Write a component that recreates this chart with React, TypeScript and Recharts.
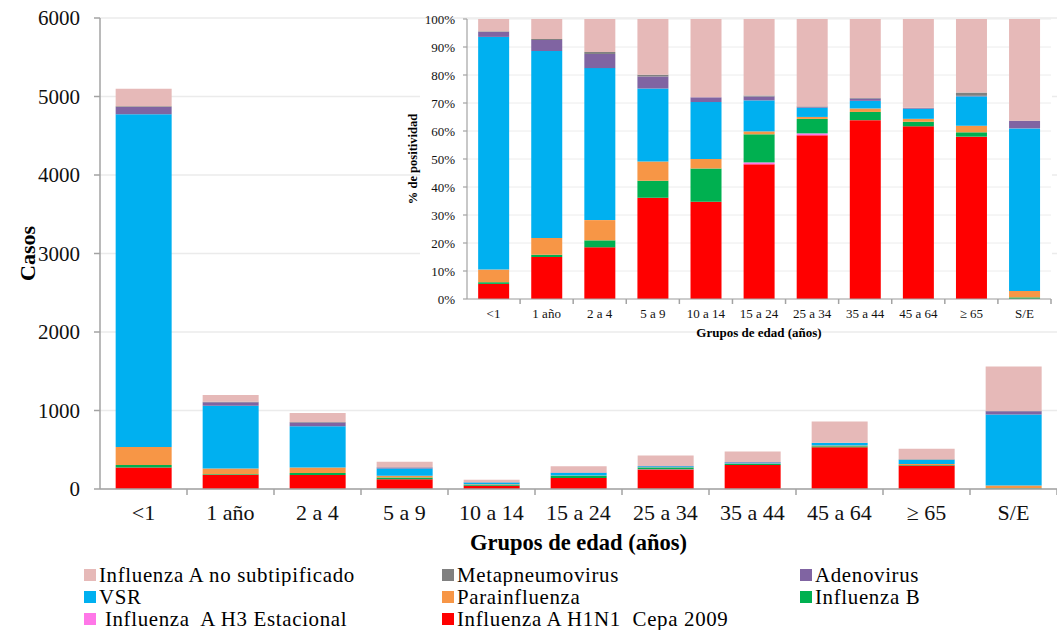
import { BarChart, Bar, XAxis, YAxis, CartesianGrid } from "recharts";

const FONT = '"Liberation Serif", "DejaVu Serif", serif';
const AXIS = "#a3a3a3";

const gruposEdad = ["<1", "1 año", "2 a 4", "5 a 9", "10 a 14", "15 a 24", "25 a 34", "35 a 44", "45 a 64", "≥ 65", "S/E"];

// casos por grupo de edad
const h1n1 = [275, 179, 179, 125, 41, 139, 249, 306, 531, 298, 0];
const h3Estacional = [0, 0, 0, 0, 0, 2, 3, 0, 0, 0, 0];
const influenzaB = [31, 10, 24, 21, 14, 29, 22, 14, 14, 8, 9];
const parainfluenza = [230, 72, 70, 24, 4, 3, 3, 6, 9, 12, 36];
const vsr = [4238, 798, 526, 90, 24, 32, 14, 13, 31, 54, 905];
const adenovirus = [92, 47, 49, 15, 2, 4, 1, 4, 2, 1, 41];
const metapneumovirus = [10, 5, 7, 2, 0, 1, 1, 1, 1, 6, 2];
const noSubtipificado = [224, 85, 114, 69, 33, 79, 133, 135, 273, 135, 566];

const casosTicks = [0, 1000, 2000, 3000, 4000, 5000, 6000];
const pctTicks = [0, 10, 20, 30, 40, 50, 60, 70, 80, 90, 100];

const series = [
  { key: "h1n1", name: "Influenza A H1N1  Cepa 2009", color: "#FF0000", values: h1n1 },
  { key: "h3", name: " Influenza  A H3 Estacional", color: "#FF77E8", values: h3Estacional },
  { key: "fluB", name: "Influenza B", color: "#00B050", values: influenzaB },
  { key: "para", name: "Parainfluenza", color: "#F79646", values: parainfluenza },
  { key: "vsr", name: "VSR", color: "#00B0F0", values: vsr },
  { key: "adeno", name: "Adenovirus", color: "#8064A2", values: adenovirus },
  { key: "metap", name: "Metapneumovirus", color: "#808080", values: metapneumovirus },
  { key: "noSub", name: "Influenza A no subtipificado", color: "#E6B9B8", values: noSubtipificado },
];

const legendOrder = ["noSub", "metap", "adeno", "vsr", "para", "fluB", "h3", "h1n1"];

const data = gruposEdad.map((grupo, i) => {
  const row: Record<string, string | number> = { grupo };
  series.forEach((s) => {
    row[s.key] = s.values[i];
  });
  return row;
});

// tick label at the band center, tick mark at the band boundary
function BandTick(props: any) {
  const { x, y, payload, band, size, baseline, fontSize } = props;
  return (
    <g>
      <line x1={x + band / 2} x2={x + band / 2} y1={y} y2={y + size} stroke={AXIS} strokeWidth={1.5} />
      <text x={x} y={y + baseline} textAnchor="middle" fontSize={fontSize} fill="#111">
        {payload.value}
      </text>
    </g>
  );
}

export default function App() {
  return (
    <div style={{ position: "absolute", left: 0, top: 0, width: 1057, height: 630, fontFamily: FONT, background: "#fff" }}>
      <BarChart width={1057} height={560} data={data} margin={{ top: 18, right: 0, left: 0, bottom: 0 }} barCategoryGap="18%">
        <CartesianGrid vertical={false} stroke="#ebebeb" strokeWidth={1.5} />
        <XAxis
          dataKey="grupo"
          height={71}
          interval={0}
          axisLine={{ stroke: AXIS, strokeWidth: 1.5 }}
          tickLine={false}
          tickSize={0}
          tickMargin={0}
          tick={<BandTick band={87} size={6} baseline={31} fontSize={22} />}
          label={{ value: "Grupos de edad (años)", position: "insideBottom", offset: 10, fontSize: 22.5, fontWeight: 700, fill: "#000" }}
        />
        <YAxis
          width={100}
          domain={[0, 6000]}
          ticks={casosTicks}
          interval={0}
          axisLine={{ stroke: AXIS, strokeWidth: 1.5 }}
          tickLine={{ stroke: AXIS, strokeWidth: 1.5 }}
          tickSize={6}
          tickMargin={14}
          tick={{ fontSize: 21, fill: "#111" }}
          label={{ value: "Casos", angle: -90, position: "insideLeft", offset: 27, fontSize: 22, fontWeight: 700, fill: "#000", style: { textAnchor: "middle" } }}
        />
        {series.map((s) => (
          <Bar key={s.key} dataKey={s.key} name={s.name} stackId="casos" fill={s.color} isAnimationActive={false} />
        ))}
      </BarChart>

      <div style={{ position: "absolute", left: 420, top: 20, width: 632, height: 310, background: "#fff" }} />

      <div style={{ position: "absolute", left: 405, top: 0 }}>
        <BarChart width={650} height={345} data={data} stackOffset="expand" margin={{ top: 19, right: 4, left: 0, bottom: 0 }} barCategoryGap="21%">
          <CartesianGrid vertical={false} stroke="#ececec" />
          <XAxis
            dataKey="grupo"
            height={46}
            interval={0}
            axisLine={{ stroke: AXIS, strokeWidth: 1.2 }}
            tickLine={false}
            tickSize={0}
            tickMargin={0}
            tick={<BandTick band={584 / 11} size={5} baseline={19} fontSize={13} />}
            label={{ value: "Grupos de edad (años)", position: "insideBottom", offset: 8, fontSize: 13, fontWeight: 700, fill: "#000" }}
          />
          <YAxis
            width={62}
            domain={[0, 1]}
            ticks={pctTicks.map((t) => t / 100)}
            interval={0}
            tickFormatter={(v) => `${Math.round(v * 100)}%`}
            axisLine={{ stroke: AXIS, strokeWidth: 1.2 }}
            tickLine={{ stroke: AXIS, strokeWidth: 1.2 }}
            tickSize={4}
            tickMargin={8}
            tick={{ fontSize: 13, fill: "#111" }}
            label={{ value: "% de positividad", angle: -90, position: "insideLeft", offset: 8, fontSize: 12.5, fontWeight: 700, fill: "#000", style: { textAnchor: "middle" } }}
          />
          {series.map((s) => (
            <Bar key={s.key} dataKey={s.key} name={s.name} stackId="pct" fill={s.color} isAnimationActive={false} />
          ))}
        </BarChart>
      </div>

      <div
        style={{
          position: "absolute",
          left: 84,
          top: 564,
          display: "grid",
          gridTemplateColumns: "358px 358px 240px",
          gridAutoRows: "22px",
          fontSize: 19,
          letterSpacing: 0.6,
          color: "#000",
        }}
      >
        {legendOrder.map((k) => {
          const s = series.find((x) => x.key === k)!;
          return (
            <div key={k} style={{ display: "flex", alignItems: "center", whiteSpace: "pre", height: 22 }}>
              <span style={{ width: 12, height: 12, background: s.color, marginRight: 3, display: "inline-block", flexShrink: 0 }} />
              <span style={{ display: "inline-block", transform: "scale(1.1, 1.1)", transformOrigin: "left center", lineHeight: "20px" }}>{s.name}</span>
            </div>
          );
        })}
      </div>
    </div>
  );
}
